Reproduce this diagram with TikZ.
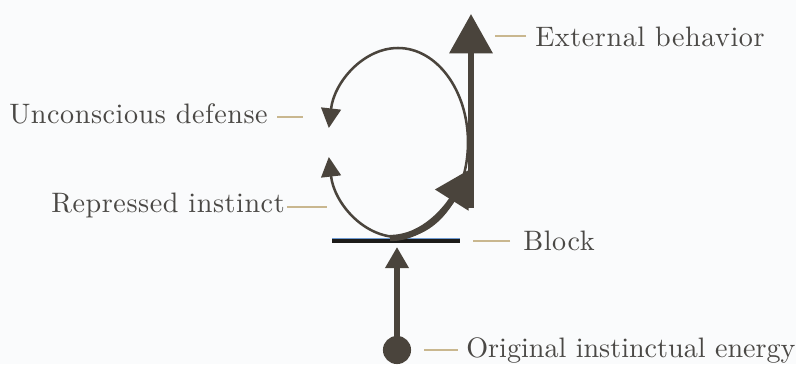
\documentclass[tikz,border=0pt]{standalone}
\usepackage{fontspec}
\setmainfont{lmroman10-regular.otf}[LetterSpace=2]
\usepackage{tikz}
\usetikzlibrary{arrows.meta}

\begin{document}
\begin{tikzpicture}[x=0.025cm,y=0.025cm,
  lab/.style={font=\fontsize{20}{22}\selectfont,text=labelInk,inner sep=0pt},
  tick/.style={draw=tickTan,line width=1pt},
  thinloop/.style={draw=inkBrown,line width=1.8pt,-{Triangle[length=14pt,width=14pt]}},
  thickpath/.style={draw=inkBrown,line width=4.5pt}]
\definecolor{inkBrown}{HTML}{4A443C}
\definecolor{labelInk}{HTML}{4A4845}
\definecolor{tickTan}{HTML}{C9B78F}
\definecolor{blockInk}{HTML}{1C1B19}
\definecolor{blockBlue}{HTML}{6F9BD2}
\definecolor{paper}{HTML}{FAFBFC}
\fill[paper] (0,0) rectangle (796,364);
\useasboundingbox (0,0) rectangle (796,364);
% labels
\node[lab,anchor=base west] (extlab) at (535,318) {External behavior};
\node[lab,anchor=base east] (deflab) at (268,241) {Unconscious defense};
\node[lab,anchor=base east] (replab) at (285,152) {Repressed instinct};
\node[lab,anchor=base west] (blocklab) at (523,114) {Block};
\node[lab,anchor=base west] (origlab) at (466,7) {\addfontfeature{LetterSpace=0}Original instinctual energy};
\foreach \lab/\side/\x/\y/\gap in {extlab/west/495/328/6.4pt,deflab/east/303/247/6.4pt,
    replab/east/327/157/1.4pt,blocklab/west/473/123/9.2pt,origlab/west/424/14/5.7pt} {
  \coordinate (\lab-end) at (\x,\y);
  \draw[tick,shorten <=\gap] (\lab-end -| \lab.\side) -- (\lab-end);
}
% energy source and block
\node[circle,fill=inkBrown,minimum size=20pt,inner sep=0pt] (src) at (397,14) {};
\coordinate (blockL) at (332,123);
\coordinate (blockR) at (460,123);
\draw[blockInk,line width=3pt] (blockL) -- (blockR);
\draw[blockBlue,line width=0.7pt] ([yshift=1.6pt]blockL) -- ([yshift=1.6pt]blockR);
\coordinate (blockHit) at (397,117);
\draw[thickpath,-{Triangle[length=15pt,width=16pt]}] (src) -- (blockHit);
% loop of repression
\coordinate (loopBot) at (398,127);
\draw[thinloop] (loopBot) arc[start angle=270,end angle=188.8,x radius=70,y radius=94.5];
\draw[thinloop] (loopBot) arc[start angle=-90,end angle=171.2,x radius=70,y radius=94.5];
% outlet to behavior
\coordinate (thickStart) at (390,126);
\coordinate (midTip) at (472,196);
\draw[thickpath,-{Triangle[length=27pt,width=27pt]}] (thickStart) .. controls (425,126) and (448,158) .. (midTip);
\coordinate (riseBase) at (471,156);
\coordinate (riseTip) at (471,350);
\draw[thickpath,-{Triangle[length=28pt,width=30pt]}] (riseBase) -- (riseTip);
\end{tikzpicture}
\end{document}
